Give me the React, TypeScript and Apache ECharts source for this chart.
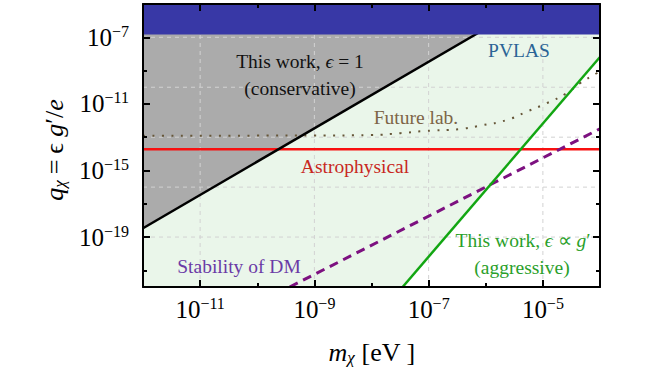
import React, { useEffect, useRef } from "react";
import * as echarts from "echarts";

// Axis extents as log10 values (m in eV, q dimensionless)
const X_MIN = -12;
const X_MAX = -4;
const Y_MIN = -22;
const Y_MAX = -5;

// Tick positions (log10)
const xLabeledTicks = [-11, -9, -7, -5];
const xMinorTicks = [-10, -8, -6];
const yLabeledTicks = [-19, -15, -11, -7];
const yMinorTicks = [-21, -17, -13, -9];
const xGridLines = [-11, -9, -7, -5];
const yGridLines = [-19, -16, -13, -10, -7];

// Curves as [m (eV), q] pairs
const pvlasBound: number[][] = [[1e-12, 1.48e-7], [1e-4, 1.48e-7]];
const conservativeLine: number[][] = [[1e-12, 3.4e-19], [5.43e-6, 1e-5]];
const aggressiveLine: number[][] = [[3.51e-8, 1e-22], [1e-4, 6.6e-9]];
const aggressiveRegion: number[][] = [[1e-12, 1e-22], [3.51e-8, 1e-22], [1e-4, 6.6e-9]];
const astroLine: number[][] = [[1e-12, 1.86e-14], [1e-4, 1.86e-14]];
const stabilityLine: number[][] = [[3.7e-10, 1e-22], [1e-4, 3.2e-13]];
const futureLab: number[][] = [
  [1e-12, 1.23e-13],
  [1e-10, 1.24e-13],
  [1e-9, 1.26e-13],
  [1e-8, 1.35e-13],
  [3.2e-8, 1.74e-13],
  [8.1e-8, 2.34e-13],
  [3.54e-7, 3.09e-13],
  [9.06e-7, 5.37e-13],
  [2.33e-6, 1.07e-12],
  [5.21e-6, 3.39e-12],
  [1.17e-5, 1.1e-11],
  [2.61e-5, 4.37e-11],
  [4.47e-5, 1.74e-10],
  [8.75e-5, 6.92e-10],
  [1e-4, 8.9e-10],
];

const toLog = (pts: number[][]) => pts.map(([m, q]) => [Math.log10(m), Math.log10(q)]);

const SERIF = "Liberation Serif";

const tickLabel = (v: number) => `{b|10}{s|\u2212${Math.abs(v)}}`;
const tickRich = {
  b: { fontSize: 25, fontFamily: SERIF, color: "#000" },
  s: { fontSize: 16, fontFamily: SERIF, color: "#000", padding: [0, 0, 12, 0] },
};

function makeXAxis(position: "top" | "bottom", labeled: boolean) {
  return {
    type: "value",
    gridIndex: 0,
    position,
    offset: 0,
    min: X_MIN,
    max: X_MAX,
    z: 10,
    axisLine: { show: labeled, onZero: false, lineStyle: { color: "#000", width: 2 } },
    axisTick: {
      show: true,
      inside: true,
      length: labeled ? 7 : 4,
      lineStyle: { color: "#000", width: 2 },
      customValues: labeled ? xLabeledTicks : xMinorTicks,
    },
    axisLabel: {
      show: labeled && position === "bottom",
      customValues: xLabeledTicks,
      formatter: tickLabel,
      fontFamily: SERIF,
      rich: tickRich,
      margin: 8,
    },
    splitLine: { show: false },
  };
}

function makeYAxis(position: "left" | "right", labeled: boolean) {
  return {
    type: "value",
    gridIndex: 0,
    position,
    offset: 0,
    min: Y_MIN,
    max: Y_MAX,
    z: 10,
    axisLine: { show: labeled, onZero: false, lineStyle: { color: "#000", width: 2 } },
    axisTick: {
      show: true,
      inside: true,
      length: labeled ? 7 : 4,
      lineStyle: { color: "#000", width: 2 },
      customValues: labeled ? yLabeledTicks : yMinorTicks,
    },
    axisLabel: {
      show: labeled && position === "left",
      customValues: yLabeledTicks,
      formatter: tickLabel,
      fontFamily: SERIF,
      rich: tickRich,
      margin: 14,
    },
    splitLine: { show: false },
  };
}

const gridStyle = { stroke: "#d2d2d2", lineWidth: 1, lineDash: [4, 4] };

function buildOption() {
  const lineSeries = (data: number[][], color: string, width: number, type: any, z: number, smooth = false) => ({
    type: "line",
    data: toLog(data),
    xAxisIndex: 0,
    yAxisIndex: 0,
    showSymbol: false,
    symbol: "none",
    smooth,
    clip: true,
    z,
    lineStyle: { color, width, type, cap: "butt" },
  });
  const areaSeries = (data: number[][], color: string, z: number) => ({
    type: "line",
    data: toLog(data),
    xAxisIndex: 0,
    yAxisIndex: 0,
    showSymbol: false,
    symbol: "none",
    clip: true,
    z,
    lineStyle: { width: 0, opacity: 0 },
    areaStyle: { origin: "end", color, opacity: 1 },
  });

  const text = (x: number, y: number, t: string, color: string, size = 19.5) => ({
    type: "text",
    x,
    y,
    z: 20,
    style: {
      text: t,
      fill: color,
      fontSize: size,
      fontFamily: SERIF,
      textAlign: "center",
      textVerticalAlign: "middle",
      rich: {
        n: { fontSize: size, fontFamily: SERIF, fill: color },
        it: { fontSize: size, fontFamily: SERIF, fontStyle: "italic", fill: color },
      },
    },
  });

  const mathRich = {
    it: { fontSize: 26, fontFamily: SERIF, fontStyle: "italic", fill: "#000" },
    n: { fontSize: 26, fontFamily: SERIF, fill: "#000" },
    op: { fontSize: 26, fontFamily: SERIF, fill: "#000", padding: [0, 6, 0, 6] },
    sub: { fontSize: 17, fontFamily: SERIF, fontStyle: "italic", fill: "#000", padding: [11, 0, 0, 0] },
  };

  return {
    animation: false,
    backgroundColor: "#ffffff",
    textStyle: { fontFamily: SERIF },
    grid: { left: 143, top: 4, width: 457, height: 283, containLabel: false },
    xAxis: [makeXAxis("bottom", true), makeXAxis("bottom", false), makeXAxis("top", true), makeXAxis("top", false)],
    yAxis: [makeYAxis("left", true), makeYAxis("left", false), makeYAxis("right", true), makeYAxis("right", false)],
    series: [
      areaSeries(aggressiveRegion, "#eaf6ea", 1),
      areaSeries(conservativeLine, "#ababab", 2),
      {
        type: "custom",
        xAxisIndex: 0,
        yAxisIndex: 0,
        z: 3,
        silent: true,
        data: xGridLines.map((v) => [v, Y_MIN]),
        encode: { x: 0, y: 1 },
        renderItem: (_p: any, api: any) => {
          const v = api.value(0);
          const a = api.coord([v, Y_MIN]);
          const b = api.coord([v, Y_MAX]);
          return { type: "line", shape: { x1: a[0], y1: a[1], x2: b[0], y2: b[1] }, style: gridStyle };
        },
      },
      {
        type: "custom",
        xAxisIndex: 0,
        yAxisIndex: 0,
        z: 3,
        silent: true,
        data: yGridLines.map((v) => [X_MIN, v]),
        encode: { x: 0, y: 1 },
        renderItem: (_p: any, api: any) => {
          const v = api.value(1);
          const a = api.coord([X_MIN, v]);
          const b = api.coord([X_MAX, v]);
          return { type: "line", shape: { x1: a[0], y1: a[1], x2: b[0], y2: b[1] }, style: gridStyle };
        },
      },
      lineSeries(futureLab, "#665638", 2, [2, 7.5], 5, true),
      lineSeries(astroLine, "#f81010", 2.5, "solid", 6),
      lineSeries(stabilityLine, "#7d1180", 3, [9, 6], 6),
      lineSeries(aggressiveLine, "#12a612", 2.5, "solid", 7),
      lineSeries(conservativeLine, "#000000", 2.5, "solid", 7),
      areaSeries(pvlasBound, "#3838a6", 8),
    ],
    graphic: [
      text(300, 61, "{n|This work, }{it|\u03f5}{n| = 1}", "#111111"),
      text(300, 88, "(conservative)", "#111111"),
      text(519, 50, "PVLAS", "#2a6496"),
      text(416, 117, "Future lab.", "#7d6547"),
      text(355, 166, "Astrophysical", "#c8281e"),
      text(239, 266, "Stability of DM", "#6b3aa6"),
      text(523, 240, "{n|This work, }{it|\u03f5}{n| \u221d }{it|g}{n|\u2032}", "#2aa02a"),
      text(522, 267, "(aggressive)", "#2aa02a"),
      {
        type: "text",
        x: 54,
        y: 150,
        rotation: Math.PI / 2,
        z: 20,
        style: {
          text: "{it|q}{sub|\u03c7}{op|=}{n|\u03f5 }{it|g}{n|\u2032/}{it|e}",
          textAlign: "center",
          textVerticalAlign: "middle",
          fontSize: 26,
          fontFamily: SERIF,
          fill: "#000",
          rich: mathRich,
        },
      },
      {
        type: "text",
        x: 372,
        y: 352,
        z: 20,
        style: {
          text: "{it|m}{sub|\u03c7}{n| [eV ]}",
          textAlign: "center",
          textVerticalAlign: "middle",
          fontSize: 26,
          fontFamily: SERIF,
          fill: "#000",
          rich: mathRich,
        },
      },
    ],
  };
}

export default function App() {
  const ref = useRef<HTMLDivElement>(null);
  useEffect(() => {
    if (!ref.current) return;
    const chart = echarts.init(ref.current, null, { renderer: "svg" });
    chart.setOption(buildOption() as any);
    return () => chart.dispose();
  }, []);
  return (
    <div
      ref={ref}
      style={{ position: "fixed", left: 0, top: 0, width: 664, height: 374, background: "#fff" }}
    />
  );
}
